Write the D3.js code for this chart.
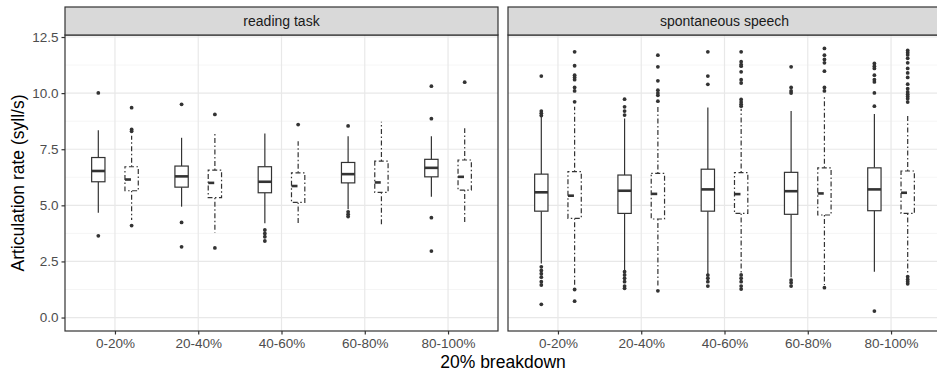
<!DOCTYPE html>
<html>
  <head>
    <meta charset="UTF-8" />
    <script src="https://cdnjs.cloudflare.com/ajax/libs/d3/7.8.5/d3.min.js"></script>
    <style>
      body { margin: 0; background: #fff; }
      svg { font-family: "Liberation Sans", Arial, sans-serif; display: block; }
      .tick text { fill: #4d4d4d; font-size: 13.5px; }
      .tick line { stroke: #333; }
      path.domain { stroke: none; }
    </style>
  </head>
  <body>
    <svg id="chart" width="937" height="374"></svg>
    <script>
      const categories = ["0-20%", "20-40%", "40-60%", "60-80%", "80-100%"];
      const panels = ["reading task", "spontaneous speech"];
      const groups = ["A", "B"];
      const yTicks = [0, 2.5, 5, 7.5, 10, 12.5];

      // [lower whisker, q1, median, q3, upper whisker] per category
      const readingA = [
        [4.67, 6.05, 6.53, 7.13, 8.35],
        [4.94, 5.81, 6.29, 6.75, 8.01],
        [4.2, 5.56, 6.05, 6.72, 8.2],
        [4.82, 6.0, 6.39, 6.91, 8.08],
        [5.38, 6.27, 6.67, 7.05, 8.08]
      ];
      const readingB = [
        [4.35, 5.65, 6.15, 6.72, 8.1],
        [3.78, 5.34, 6.0, 6.57, 8.28],
        [4.2, 5.13, 5.86, 6.45, 7.86],
        [4.09, 5.58, 6.02, 6.97, 8.72],
        [4.2, 5.68, 6.27, 7.02, 8.43]
      ];
      const speechA = [
        [2.41, 4.74, 5.58, 6.39, 8.95],
        [2.09, 4.64, 5.65, 6.35, 8.87],
        [1.94, 4.74, 5.71, 6.61, 9.36],
        [1.79, 4.6, 5.63, 6.47, 9.2],
        [2.04, 4.76, 5.71, 6.67, 9.07]
      ];
      const speechB = [
        [1.35, 4.42, 5.43, 6.5, 9.39],
        [1.37, 4.39, 5.51, 6.42, 9.47],
        [1.98, 4.64, 5.5, 6.46, 9.3],
        [1.45, 4.57, 5.53, 6.67, 9.83],
        [1.97, 4.64, 5.56, 6.53, 9.02]
      ];

      const readingOutA = [
        [10.01, 3.64],
        [9.5, 4.24, 3.15],
        [3.9, 3.75, 3.6, 3.41],
        [8.54, 4.71, 4.6, 4.5],
        [10.31, 8.86, 4.45, 2.96]
      ];
      const readingOutB = [
        [9.35, 8.38, 8.3, 4.1],
        [9.05, 3.1],
        [8.6],
        [],
        [10.49]
      ];
      const speechOutA = [
        [10.76, 9.2, 9.1, 9.0, 2.26, 2.1, 1.95, 1.8, 1.6, 1.45, 0.59],
        [9.73, 9.39, 9.2, 9.02, 2.04, 1.9, 1.75, 1.6, 1.4, 1.3],
        [11.84, 10.76, 10.39, 1.89, 1.75, 1.6, 1.4],
        [11.17, 10.25, 10.1, 10.0, 1.67, 1.55, 1.4],
        [11.32, 11.2, 11.1, 10.8, 10.6, 10.5, 10.01, 9.42, 0.29]
      ];
      const speechOutB = [
        [11.84, 11.22, 10.8, 10.7, 10.6, 10.25, 10.1, 9.61, 1.25, 0.73],
        [11.69, 11.17, 10.55, 10.13, 10.0, 9.9, 9.64, 1.19],
        [11.84, 11.4, 11.27, 11.2, 10.95, 10.6, 10.45, 9.72, 9.6, 9.5, 9.42, 1.9, 1.75, 1.6, 1.4, 1.27],
        [11.99, 11.69, 11.5, 11.35, 10.98, 10.25, 10.1, 1.33],
        [11.9, 11.8, 11.7, 11.55, 11.35, 11.1, 10.9, 10.7, 10.4, 10.2, 10.05, 9.95, 9.85, 9.75, 9.6, 1.82, 1.7, 1.6, 1.5]
      ];

      const panelStats = [[readingA, readingB], [speechA, speechB]];
      const panelOut = [[readingOutA, readingOutB], [speechOutA, speechOutB]];

      const svg = d3.select("#chart");
      const plotTop = 35, plotBottom = 331, stripTop = 7;
      const panelX = [[65, 498], [508, 941]];
      const ink = "#333333";
      const dashBox = "1.5,2.5,5,2.5";

      const y = d3.scaleLinear().domain([-0.6, 12.59]).range([plotBottom, plotTop]);
      const minorTicks = d3.range(-1.25, 12.6, 2.5).filter(v => v > -0.6);

      panels.forEach((name, p) => {
        const [x0, x1] = panelX[p];
        const x = d3.scalePoint().domain(categories).range([x0, x1]).padding(0.6);
        const dodge = d3.scaleBand().domain(groups).range([-x.step() * 0.4, x.step() * 0.4]);
        const bw = dodge.bandwidth() * 0.4;
        const g = svg.append("g");

        g.append("rect").attr("x", x0).attr("y", plotTop).attr("width", x1 - x0).attr("height", plotBottom - plotTop)
          .attr("fill", "#fff");

        // grid
        g.selectAll(".minor").data(minorTicks).enter().append("line")
          .attr("x1", x0).attr("x2", x1).attr("y1", d => y(d)).attr("y2", d => y(d))
          .attr("stroke", "#f0f0f0").attr("stroke-width", 0.7);
        g.selectAll(".major").data(yTicks).enter().append("line")
          .attr("x1", x0).attr("x2", x1).attr("y1", d => y(d)).attr("y2", d => y(d))
          .attr("stroke", "#e8e8e8").attr("stroke-width", 1.2);
        g.selectAll(".vmajor").data(categories).enter().append("line")
          .attr("x1", d => x(d)).attr("x2", d => x(d)).attr("y1", plotTop).attr("y2", plotBottom)
          .attr("stroke", "#e8e8e8").attr("stroke-width", 1.2);

        groups.forEach((grp, gi) => {
          const stats = panelStats[p][gi];
          const outs = panelOut[p][gi];
          const dash = gi === 1 ? dashBox : null;
          categories.forEach((c, ci) => {
            const [lo, q1, med, q3, hi] = stats[ci];
            const cx = x(c) + dodge(grp) + dodge.bandwidth() / 2;
            const b = g.append("g");
            b.append("line").attr("x1", cx).attr("x2", cx).attr("y1", y(q3)).attr("y2", y(hi))
              .attr("stroke", ink).attr("stroke-width", 1.2).attr("stroke-dasharray", dash);
            b.append("line").attr("x1", cx).attr("x2", cx).attr("y1", y(q1)).attr("y2", y(lo))
              .attr("stroke", ink).attr("stroke-width", 1.2).attr("stroke-dasharray", dash);
            b.append("rect").attr("x", cx - bw / 2).attr("y", y(q3)).attr("width", bw)
              .attr("height", y(q1) - y(q3)).attr("fill", "#fff")
              .attr("stroke", ink).attr("stroke-width", 1.2).attr("stroke-dasharray", dash);
            b.append("line").attr("x1", cx - bw / 2).attr("x2", cx + bw / 2)
              .attr("y1", y(med)).attr("y2", y(med))
              .attr("stroke", ink).attr("stroke-width", 2.6)
              .attr("stroke-dasharray", gi === 1 ? "6,20" : null);
            b.selectAll("circle").data(outs[ci]).enter().append("circle")
              .attr("cx", cx).attr("cy", d => y(d)).attr("r", 1.9).attr("fill", ink);
          });
        });

        // panel border
        g.append("rect").attr("x", x0).attr("y", plotTop).attr("width", x1 - x0).attr("height", plotBottom - plotTop)
          .attr("fill", "none").attr("stroke", ink).attr("stroke-width", 1.2);
        // strip
        g.append("rect").attr("x", x0).attr("y", stripTop).attr("width", x1 - x0).attr("height", plotTop - stripTop)
          .attr("fill", "#d9d9d9").attr("stroke", ink).attr("stroke-width", 1.2);
        g.append("text").attr("x", (x0 + x1) / 2).attr("y", (stripTop + plotTop) / 2 + 5)
          .attr("text-anchor", "middle").attr("font-size", 14).attr("fill", "#1a1a1a").text(name);

        const xAxis = g.append("g").attr("transform", `translate(0,${plotBottom})`)
          .call(d3.axisBottom(x).tickSize(3.5).tickPadding(4));
        xAxis.selectAll(".tick line").attr("stroke-width", 1.2);

        if (p === 0) {
          const yAxis = g.append("g").attr("transform", `translate(${x0},0)`)
            .call(d3.axisLeft(y).tickValues(yTicks).tickFormat(d3.format(".1f")).tickSize(3.5).tickPadding(3));
          yAxis.selectAll(".tick line").attr("stroke-width", 1.2);
        }
      });

      svg.append("text").attr("transform", `translate(24,${(plotTop + plotBottom) / 2}) rotate(-90)`)
        .attr("text-anchor", "middle").attr("font-size", 17.5).attr("fill", "#000")
        .text("Articulation rate (syll/s)");
      svg.append("text").attr("x", 503).attr("y", 368)
        .attr("text-anchor", "middle").attr("font-size", 17.5).attr("fill", "#000")
        .text("20% breakdown");
    </script>
  </body>
</html>
